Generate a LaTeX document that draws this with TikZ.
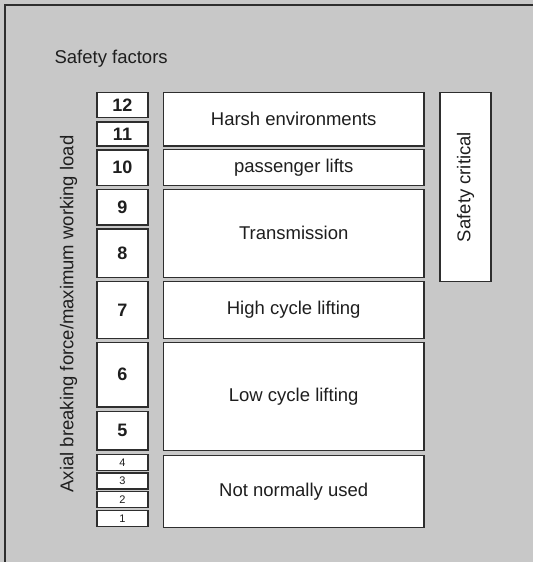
\documentclass[tikz,border=0pt]{standalone}
\usepackage{fontspec}
\setsansfont{Liberation Sans}
\tikzset{every node/.style={font=\sffamily}}
\usepackage{xcolor}
\definecolor{panelgray}{HTML}{C8C8C8}
\definecolor{edgegray}{HTML}{2E2E2E}
\definecolor{inkgray}{HTML}{1E1E1E}

\begin{document}
\begin{tikzpicture}[
        x=1pt, y=-1pt,
        box/.style={draw=edgegray, line width=1.5pt, fill=white, inner sep=0pt, text=inkgray},
        numbox/.style={box, minimum width=51pt, font=\sffamily\bfseries\fontsize{18}{20}\selectfont},
        smallbox/.style={box, minimum width=51pt, minimum height=16pt, font=\sffamily\fontsize{11}{12}\selectfont},
        usebox/.style={box, minimum width=260.7pt, font=\sffamily\fontsize{18.5}{22}\selectfont},
        plain/.style={text=inkgray, inner sep=0pt, font=\sffamily\fontsize{18.5}{22}\selectfont},
      ]
        % panel
        \useasboundingbox (0,0) rectangle (533,562);
        \fill[panelgray] (0,0) rectangle (533,562);
        \draw[edgegray, line width=2pt] (4.5,562) -- (4.5,4.5) -- (533,4.5);

        \node[plain, anchor=base west] (title) at (54.4,63.3) {Safety factors};
        \node[plain, rotate=90, anchor=base] (axis) at (73.3,314) {Axial breaking force/maximum working load};

        % safety factor scale
        \node[numbox, minimum height=25pt] (n12) at (122.5,104.8) {12};
        \node[numbox, minimum height=24.3pt] (n11) at (122.5,133.9) {11};
        \node[numbox, minimum height=35.3pt] (n10) at (122.5,167.7) {10};
        \node[numbox, minimum height=35.7pt] (n9) at (122.5,207.2) {9};
        \node[numbox, minimum height=48.3pt] (n8) at (122.5,253.2) {8};
        \node[numbox, minimum height=56.6pt] (n7) at (122.5,310) {7};
        \node[numbox, minimum height=64.7pt] (n6) at (122.5,374.7) {6};
        \node[numbox, minimum height=38.7pt] (n5) at (122.5,430.7) {5};
        \node[smallbox] (n4) at (122.5,462.4) {4};
        \node[smallbox] (n3) at (122.5,481) {3};
        \node[smallbox] (n2) at (122.5,499.7) {2};
        \node[smallbox] (n1) at (122.5,518.3) {1};

        % applications
        \node[usebox, minimum height=53.7pt] (harsh) at (293.7,119.2) {Harsh environments};
        \node[usebox, minimum height=35.6pt] (lifts) at (293.7,167.5) {passenger lifts};
        \node[usebox, minimum height=88pt] (trans) at (293.7,233.3) {Transmission};
        \node[usebox, minimum height=56.6pt] (high) at (293.7,310) {High cycle lifting};
        \node[usebox, minimum height=108.4pt] (low) at (293.7,396.5) {Low cycle lifting};
        \node[usebox, minimum height=72.4pt] (unused) at (293.7,491.5) {Not normally used};

        \node[box, rotate=90, minimum width=189.4pt, minimum height=51pt, font=\sffamily\fontsize{18.5}{22}\selectfont] (critical) at (465.5,187) {Safety critical};
      \end{tikzpicture}
\end{document}
